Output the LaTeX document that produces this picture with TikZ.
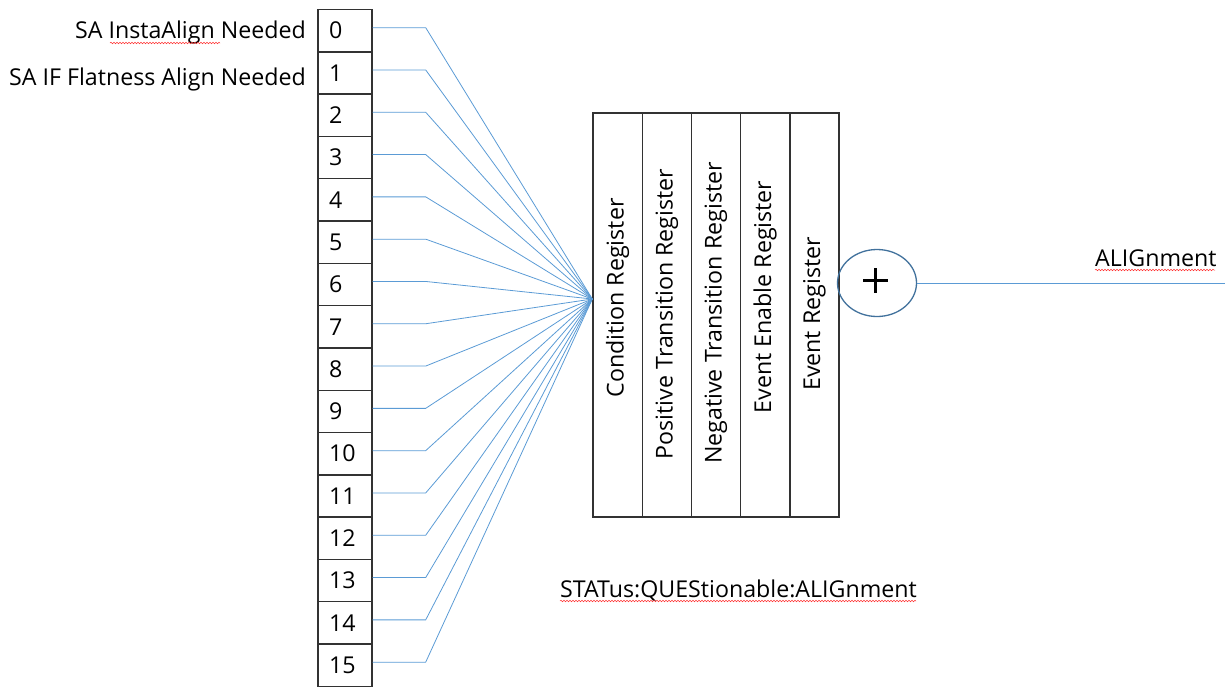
\documentclass[tikz,border=0pt]{standalone}
\usepackage{fontspec}
\setmainfont{Open Sans}
\usetikzlibrary{shapes.geometric,decorations.pathmorphing}
\definecolor{sigblue}{RGB}{91,155,213}
\definecolor{ringblue}{RGB}{65,113,156}
\definecolor{boxline}{RGB}{50,50,50}
\newcommand{\tsize}{\fontsize{23.2}{25}\selectfont}
\tikzset{
  bitbox/.style={draw=boxline,line width=1.4pt,minimum width=54pt,minimum height=42.3pt,inner sep=0pt},
  bitnum/.style={font=\tsize,anchor=west,inner sep=0pt},
  sig/.style={draw=sigblue,line width=0.8pt},
  regcol/.style={draw=boxline,line width=1.4pt,minimum width=49.2pt,minimum height=404pt,inner sep=0pt},
  regtxt/.style={font=\tsize,rotate=90,inner sep=0pt},
  lbl/.style={font=\tsize,inner sep=0pt},
  squig/.style={draw=red!80!white,line width=0.5pt,decorate,decoration={snake,amplitude=0.8pt,segment length=3pt}}
}
\begin{document}
\begin{tikzpicture}[x=1pt,y=-1pt]
\useasboundingbox (0,0) rectangle (1225,686);
% bit boxes
\foreach \i in {0,...,15}{
  \node[bitbox] (b\i) at (345,{30.65+42.3*\i}) {};
  \node[bitnum] (n\i) at (329,{30.65+42.3*\i}) {\i};
}
% register columns
\foreach \k/\t/\dy in {1/Condition Register/-17,2/Positive Transition Register/-1,3/Negative Transition Register/-2,4/Event Enable Register/-18,5/Event Register/-1}{
  \node[regcol] (r\k) at ({617.6+49.2*(\k-1)},315) {};
  \node[regtxt] (t\k) at ([yshift={-(\dy)*1pt}]r\k.center) {\t};
}
\coordinate (c) at ([yshift=16pt]r1.west);
% signal lines
\foreach \i in {0,...,15}{
  \draw[sig] ([yshift=3pt]b\i.east) -- ++(53,0) -- (c);
}
% summing junction
\node[ellipse,draw=ringblue,line width=1.3pt,minimum width=79pt,minimum height=67pt,inner sep=0pt] (sum) at (877,283) {};
\draw[line width=3.4pt] (863,280.5) -- (888,280.5) (875.5,268) -- (875.5,293);
\coordinate (out) at (1225,283);
\draw[sig] (sum.east) -- (out);
% labels
\node[lbl,anchor=base east] (l0) at (306,38) {SA InstaAlign Needed};
\node[lbl,anchor=base east] (l1) at (306,85) {SA IF Flatness Align Needed};
\node[lbl,anchor=base west] (la) at (1095,266) {ALIGnment};
\node[lbl,anchor=base west] (ls) at (560,597) {STATus:QUEStionable:ALIGnment};
% spell-check squiggles
\draw[squig] (110,43) -- (220,43);
\draw[squig] (1095,270) -- (1215,270);
\draw[squig] (560,601) -- (916,601);
\end{tikzpicture}
\end{document}
